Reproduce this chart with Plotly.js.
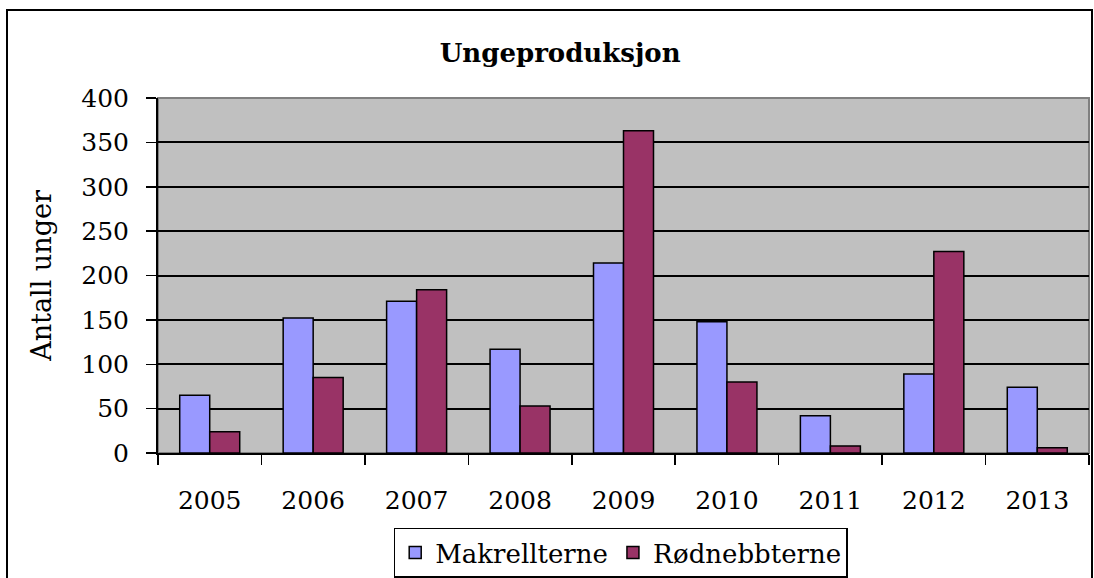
<!DOCTYPE html>
<html>
<head>
<meta charset="utf-8">
<script src="https://cdn.plot.ly/plotly-3.0.1.min.js"></script>
<style>
html,body{margin:0;padding:0;width:1094px;height:578px;overflow:hidden;background:#fff;}
#chart{position:absolute;left:0;top:0;width:1094px;height:620px;}
#frame{position:absolute;left:6px;top:9px;width:1087px;height:620px;border:2px solid #000;box-sizing:border-box;pointer-events:none;}
</style>
</head>
<body>
<div id="chart"></div>
<div id="frame"></div>
<script>
const years = ['2005','2006','2007','2008','2009','2010','2011','2012','2013'];
const makrellterne = [65, 152, 171, 117, 214, 148, 42, 89, 74];
const rodnebbterne = [24, 85, 184, 53, 363, 80, 8, 227, 6];
const yTicks = [0, 50, 100, 150, 200, 250, 300, 350, 400];

const font = 'DejaVu Serif, Liberation Serif, serif';

const traces = [
  {type:'bar', name:'Makrellterne', x:years, y:makrellterne,
   marker:{color:'#9999FF', line:{color:'#000', width:1.5}}},
  {type:'bar', name:'Rødnebbterne', x:years, y:rodnebbterne,
   marker:{color:'#993366', line:{color:'#000', width:1.5}}}
];

const layout = {
  width:1094, height:620,
  margin:{l:158, r:5, t:98, b:167},
  paper_bgcolor:'#fff', plot_bgcolor:'#C0C0C0',
  font:{family:font, size:25, color:'#000'},
  title:{text:'<b>Ungeproduksjon</b>', font:{family:font, size:26, color:'#000'},
         x:0.512, xanchor:'center', y:0.915, yanchor:'middle'},
  barmode:'group', bargap:0.42, bargroupgap:0,
  showlegend:true,
  legend:{orientation:'h', x:0.497, xanchor:'center', y:-0.21, yanchor:'top',
          bordercolor:'#000', borderwidth:1.5, bgcolor:'#fff',
          font:{family:font, size:26, color:'#000'}, traceorder:'normal'},
  xaxis:{type:'category', tickson:'boundaries', ticks:'outside', ticklen:10, tickwidth:1.5,
         tickcolor:'#000', showline:true, linecolor:'#000', linewidth:2, showgrid:false,
         ticklabelstandoff:24, tickfont:{family:font, size:25}},
  yaxis:{range:[0,400], tickvals:yTicks, ticks:'outside', ticklen:10, tickwidth:1.5,
         tickcolor:'#000', showline:true, linecolor:'#000', linewidth:2,
         showgrid:true, gridcolor:'#000', gridwidth:2, zeroline:false,
         ticklabelstandoff:12, tickfont:{family:font, size:25},
         title:{text:'Antall unger', font:{family:font, size:27}, standoff:22}},
  shapes:[{type:'rect', xref:'paper', yref:'paper', x0:0, x1:1, y0:0, y1:1,
           line:{color:'#808080', width:2}, layer:'below'}]
};

Plotly.newPlot('chart', traces, layout, {displayModeBar:false, staticPlot:true});
</script>
</body>
</html>
